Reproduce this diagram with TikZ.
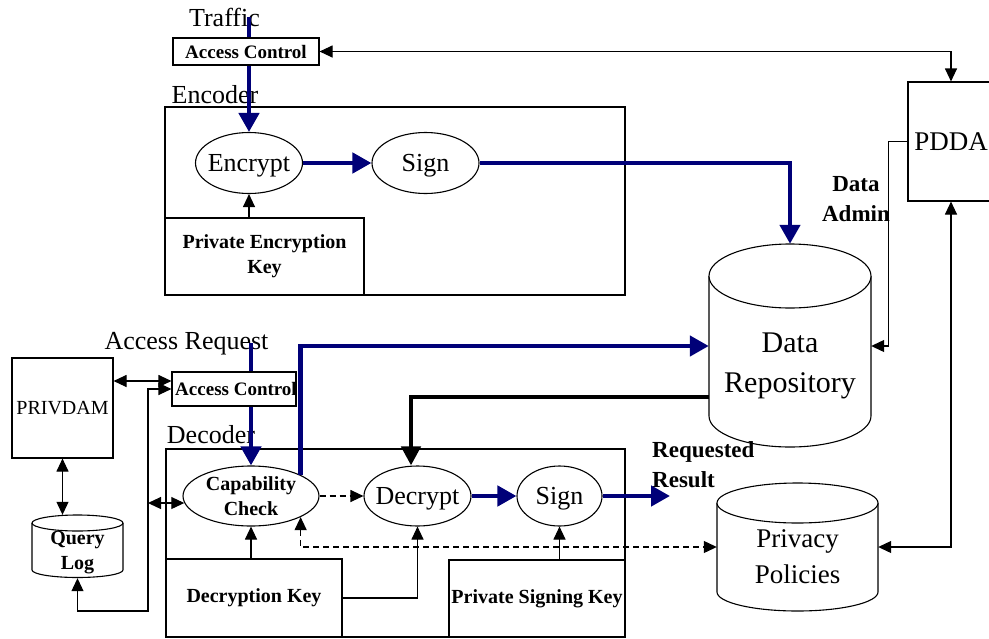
\documentclass[tikz,border=0pt]{standalone}
\usepackage{fontspec}
\setmainfont{Liberation Serif}
\usetikzlibrary{arrows.meta,calc,shapes.geometric}
\definecolor{flowblue}{RGB}{0,0,120}
\begin{document}
\begin{tikzpicture}[x=1pt,y=-1pt,
  every node/.style={inner sep=0pt},
  plain/.style={line width=1.1pt},
  box/.style={draw, line width=1.1pt, rectangle, fill=white},
  oval/.style={draw, line width=1.1pt, ellipse, fill=white},
  txtbig/.style={font=\fontsize{26}{30}\selectfont},
  txtrepo/.style={font=\fontsize{30}{40}\selectfont, align=center},
  txtpol/.style={font=\fontsize{27}{36}\selectfont, align=center},
  txtkey/.style={font=\bfseries\fontsize{20}{25}\selectfont, align=center},
  txtctl/.style={font=\bfseries\fontsize{19}{23}\selectfont},
  txtnote/.style={font=\bfseries\fontsize{23}{30}\selectfont},
  tip/.style={-{Triangle[length=13pt,width=12pt]}},
  tips/.style={{Triangle[length=13pt,width=12pt]}-{Triangle[length=13pt,width=12pt]}},
  flowline/.style={line width=4.5pt, draw=flowblue},
  flow/.style={flowline, -{Triangle[length=19pt,width=20pt]}},
  feed/.style={line width=4.5pt, -{Triangle[length=19pt,width=19pt]}},
  dashline/.style={line width=1.1pt, dash pattern=on 6pt off 4pt},
]
\useasboundingbox (0,0) rectangle (989,638);

% ---------- encoder side ----------
\node[txtbig, anchor=base] (traffic) at (224.5,26) {Traffic};
\node[box, txtctl, minimum width=146pt, minimum height=27pt] (acT) at (246,51.5) {Access Control};
\node[txtbig, anchor=base] (encLbl) at (215,103) {Encoder};
\node[draw, plain, minimum width=460pt, minimum height=188pt] (encoder) at (395,201) {};
\node[oval, minimum width=107pt, minimum height=61pt,
      label={[txtbig, text depth=0pt]center:Encrypt}] (encrypt) at (249,163) {};
\node[oval, minimum width=107pt, minimum height=61pt,
      label={[txtbig, text depth=0pt]center:Sign}] (signA) at (425.5,163) {};
\node[box, txtkey, minimum width=199pt, minimum height=77pt] (pek) at (264.5,256.5) {Private Encryption\\Key};

% ---------- PDDA ----------
\node[box, font=\fontsize{27}{30}\selectfont, minimum width=86pt, minimum height=119pt] (pdda) at (951,141.5) {PDDA};
\node[txtnote, align=center] (admin) at (856,199) {Data\\Admin};

% ---------- data repository (cylinder) ----------
\draw[plain, fill=white] (709,276) -- (709,416)
  arc[start angle=180, end angle=360, x radius=81pt, y radius=31pt] -- (871,276);
\draw[plain, fill=white] (790,276) ellipse[x radius=81pt, y radius=32pt];
\node[minimum width=162pt, minimum height=204pt] (repo) at (790,346) {};
\node[txtrepo] (repoTxt) at (790,366) {Data\\Repository};

% ---------- privacy policies (cylinder) ----------
\draw[plain, fill=white] (717,503) -- (717,592)
  arc[start angle=180, end angle=360, x radius=80.5pt, y radius=19pt] -- (878,503);
\draw[plain, fill=white] (797.5,503) ellipse[x radius=80.5pt, y radius=20pt];
\node[minimum width=161pt, minimum height=128pt] (pp) at (797.5,547) {};
\node[txtpol] (ppTxt) at (797.5,557) {Privacy\\Policies};

% ---------- decoder side ----------
\node[txtbig, anchor=base] (reqLbl) at (186.5,349) {Access Request};
\node[box, minimum width=124pt, minimum height=34pt,
      label={[txtctl, xshift=2pt]center:Access Control}] (acL) at (234,389) {};
\node[txtbig, anchor=base] (decLbl) at (211,443) {Decoder};
\node[draw, plain, minimum width=459pt, minimum height=188pt] (decoder) at (395.5,543) {};
\node[oval, txtkey, minimum width=136pt, minimum height=60pt] (cap) at (251,496) {Capability\\Check};
\node[oval, minimum width=107pt, minimum height=60pt,
      label={[txtbig, text depth=0pt]center:Decrypt}] (decrypt) at (417.5,496) {};
\node[oval, minimum width=85pt, minimum height=60pt,
      label={[txtbig, text depth=0pt]center:Sign}] (signB) at (559.5,496) {};
\node[box, txtkey, minimum width=176pt, minimum height=78pt] (deck) at (254,598) {Decryption Key};
\node[box, txtkey, minimum width=176pt, minimum height=77pt] (psk) at (537,598.5) {Private Signing Key};
\node[txtnote, align=left, anchor=north west] (reqres) at (652,441) {Requested\\Result};
\coordinate (resOut) at (670,496);

% ---------- PRIVDAM and query log ----------
\node[box, font=\fontsize{20}{24}\selectfont, minimum width=101pt, minimum height=100pt] (privdam) at (62.5,408) {PRIVDAM};
\draw[plain, fill=white] (32,523) -- (32,570)
  arc[start angle=180, end angle=360, x radius=45.5pt, y radius=7.5pt] -- (123,523);
\draw[plain, fill=white] (77.5,523) ellipse[x radius=45.5pt, y radius=8pt];
\node[minimum width=91pt, minimum height=63pt] (qlog) at (77.5,546.5) {};
\node[txtkey] (qlogTxt) at (77.5,553) {Query\\Log};

% ---------- encoder connectors ----------
\draw[flowline] (traffic.center -| encrypt.north) -- (acT.north -| encrypt.north);
\draw[flow] (acT.south -| encrypt.north) -- (encrypt.north);
\draw[flow] (encrypt) -- (signA);
\draw[flow] (signA.east) -| (repo.north);
\draw[plain, tip] (pek.north -| encrypt.south) -- (encrypt.south);
\draw[plain, tips] (acT.east) -| (pdda.north);
\draw[plain, tip] (pdda.west) -- ++(-19,0) |- (repo.east);
\draw[plain, tips] (pdda.south) |- (pp.east);

% ---------- decoder connectors ----------
\draw[flowline] (reqLbl.center -| cap.north) -- (acL.north -| cap.north);
\draw[flow] (acL.south -| cap.north) -- (cap.north);
\draw[flow] (cap.23) |- (repo.west);
\draw[feed] ($(repo.west)+(0,51)$) -| ([xshift=-6.5pt]decrypt.north);
\draw[flow] (decrypt) -- (signB);
\draw[flow] (signB.east) -- (resOut);
\draw[dashline, tip] (cap.east) -- (decrypt.west);
\draw[dashline, tips] (cap.-23) |- (pp.west);
\draw[plain, tip] (cap.south |- deck.north) -- (cap.south);
\draw[plain, tip] (deck.east) -| (decrypt.south);
\draw[plain, tip] (signB.south |- psk.north) -- (signB.south);

% ---------- PRIVDAM connectors ----------
\coordinate (acLup) at ($(acL.west)+(0,-8)$);
\coordinate (loopB) at (148,611);
\draw[plain, tips] (privdam.east |- acLup) -- (acLup);
\draw[plain, tips] (acL.west) -| (loopB) -| (qlog.south);
\draw[plain, tips] (loopB |- cap.186) -- (cap.186);
\draw[plain, tips] (privdam.south) -- (privdam.south |- qlog.north);
\end{tikzpicture}
\end{document}
